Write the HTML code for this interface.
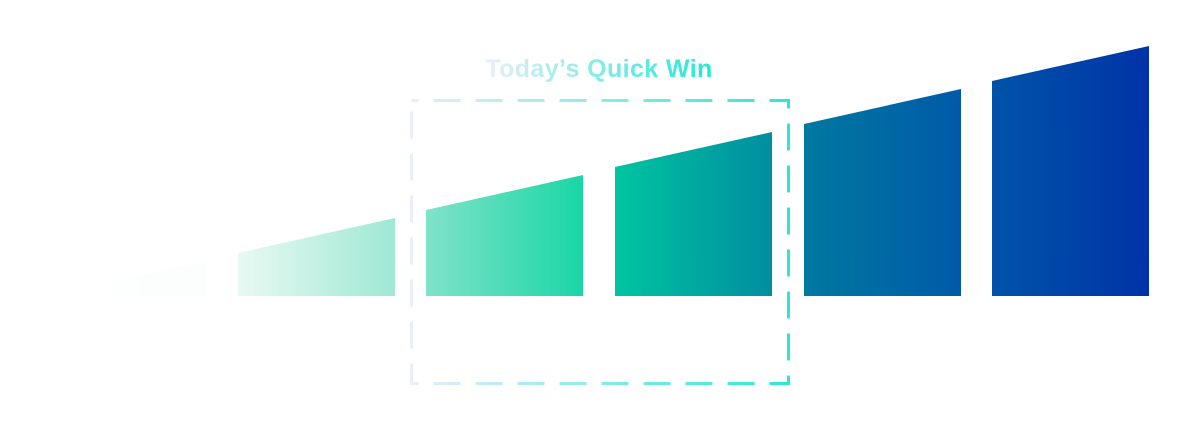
<!DOCTYPE html>
<html><head><style>html,body{margin:0;padding:0;background:#fff;width:1200px;height:432px;overflow:hidden}</style></head>
<body>
<svg width="1200" height="432" viewBox="0 0 1200 432" xmlns="http://www.w3.org/2000/svg">
<defs>
<linearGradient id="g" gradientUnits="userSpaceOnUse" x1="49" y1="0" x2="1149" y2="0">
<stop offset="0" stop-color="#ffffff"/>
<stop offset="0.14" stop-color="#fbfefd"/>
<stop offset="0.18" stop-color="#e4f8f1"/>
<stop offset="0.315" stop-color="#9ee8d3"/>
<stop offset="0.345" stop-color="#7ee2c8"/>
<stop offset="0.485" stop-color="#1ad6a6"/>
<stop offset="0.515" stop-color="#00c4a0"/>
<stop offset="0.657" stop-color="#008ea0"/>
<stop offset="0.686" stop-color="#0079a0"/>
<stop offset="0.829" stop-color="#005aa8"/>
<stop offset="1" stop-color="#0033a8"/>
</linearGradient>
<linearGradient id="d" gradientUnits="userSpaceOnUse" x1="411" y1="0" x2="789" y2="0">
<stop offset="0" stop-color="#e8eefc"/>
<stop offset="1" stop-color="#2ae8d8"/>
</linearGradient>
<linearGradient id="t" gradientUnits="userSpaceOnUse" x1="487" y1="0" x2="711" y2="0">
<stop offset="0" stop-color="#e8eefc"/>
<stop offset="1" stop-color="#22e8d6"/>
</linearGradient>
</defs>
<g fill="url(#g)">
<polygon points="49,296 49,296 206,261 206,296"/>
<polygon points="238,253 395,218 395,296 238,296"/>
<polygon points="426,210 583,175 583,296 426,296"/>
<polygon points="615,167 772,132 772,296 615,296"/>
<polygon points="804,124 961,89 961,296 804,296"/>
<polygon points="992,81 1149,46 1149,296 992,296"/>
</g>
<rect x="411.5" y="100.5" width="377" height="283" fill="none" stroke="url(#d)" stroke-width="3" stroke-dasharray="27 15" stroke-dashoffset="20"/>
<text x="599" y="77" text-anchor="middle" font-family="Liberation Sans, sans-serif" font-weight="bold" font-size="25" letter-spacing="0.4" fill="url(#t)">Today’s Quick Win</text>
</svg>
</body></html>
